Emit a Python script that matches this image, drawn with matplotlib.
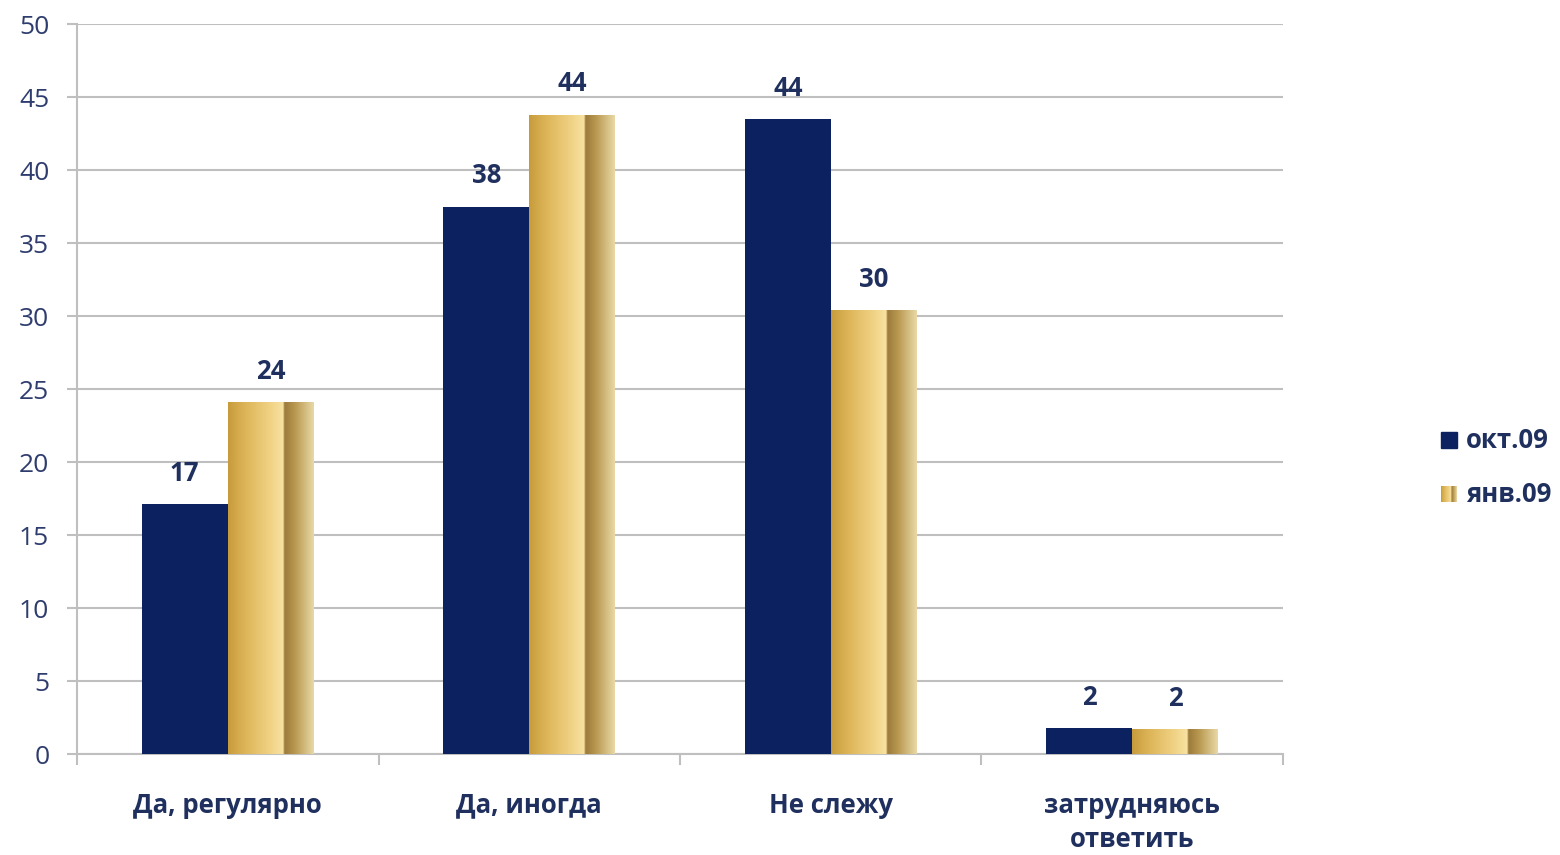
import numpy as np
import matplotlib.pyplot as plt
from matplotlib.colors import LinearSegmentedColormap
from matplotlib.patches import Rectangle

categories = ["Да, регулярно", "Да, иногда", "Не слежу", "затрудняюсь\nответить"]
oct09 = [17.1, 37.5, 43.5, 1.8]
jan09 = [24.1, 43.8, 30.4, 1.7]
oct_labels = ["17", "38", "44", "2"]
jan_labels = ["24", "44", "30", "2"]
series_names = ["окт.09", "янв.09"]

NAVY = "#0c2260"
TEXT = "#1f2f5e"

plt.rcParams['font.family'] = ['Open Sans', 'DejaVu Sans']

gold = LinearSegmentedColormap.from_list("gold", [
    (0.0, "#c79b3c"), (0.2, "#ddb558"), (0.5, "#f1d386"), (0.64, "#f7e2a2"),
    (0.66, "#9c7b3c"), (0.78, "#b99850"), (1.0, "#e9d9a6")])

fig = plt.figure(figsize=(15.6, 8.55), dpi=100)
ax = fig.add_axes([0.0494, 0.1181, 0.7730, 0.8538])

x = np.arange(len(categories))
w = 0.285
ax.bar(x - w / 2, oct09, width=w, color=NAVY, zorder=3)
gbars = ax.bar(x + w / 2, jan09, width=w, color="none", zorder=3)

grad = np.linspace(0, 1, 256).reshape(1, -1)
for b in gbars:
    x0, y0 = b.get_x(), b.get_y()
    bw, bh = b.get_width(), b.get_height()
    im = ax.imshow(grad, cmap=gold, aspect="auto", extent=[x0, x0 + bw, y0, y0 + bh], zorder=3)
    im.set_clip_path(Rectangle((x0, y0), bw, bh, transform=ax.transData))

for xi, v, lab in zip(x - w / 2, oct09, oct_labels):
    ax.text(xi, v + 2.1, lab, ha="center", va="center", fontsize=18.5, fontweight="bold", color=TEXT)
for xi, v, lab in zip(x + w / 2, jan09, jan_labels):
    ax.text(xi, v + 2.1, lab, ha="center", va="center", fontsize=18.5, fontweight="bold", color=TEXT)

ax.set_xlim(-0.5, len(categories) - 0.5)
ax.set_ylim(0, 50)
ax.set_yticks(range(0, 51, 5))
ax.yaxis.grid(True, color="#bfbfbf", linewidth=1.5, zorder=0)
ax.set_axisbelow(True)

ax.set_xticks(x)
ax.set_xticklabels(categories, fontsize=18.5, fontweight="bold", color=TEXT, linespacing=1.35)
ax.tick_params(axis="x", length=0, pad=27)
ax.set_xticks(np.arange(-0.5, len(categories)), minor=True)
ax.tick_params(axis="x", which="minor", length=8, width=1.5, color="#bfbfbf")
ax.tick_params(axis="y", labelsize=19, labelcolor="#2f3d6e", length=7, width=1.5, color="#bfbfbf", pad=13)

for s in ["top", "right"]:
    ax.spines[s].set_visible(False)
for s in ["left", "bottom"]:
    ax.spines[s].set_color("#bfbfbf")
    ax.spines[s].set_linewidth(1.5)

# legend
fig.patches.append(Rectangle((1441 / 1560, 1 - 448 / 855), 16 / 1560, 16 / 855,
                             transform=fig.transFigure, color=NAVY))
lg = fig.add_axes([1441 / 1560, 1 - 502 / 855, 16 / 1560, 16 / 855])
lg.imshow(grad, cmap=gold, aspect="auto")
lg.axis("off")
fig.text(1466 / 1560, 1 - 440 / 855, series_names[0], fontsize=18.5, fontweight="bold", color=TEXT, va="center")
fig.text(1466 / 1560, 1 - 494 / 855, series_names[1], fontsize=18.5, fontweight="bold", color=TEXT, va="center")

fig.savefig("out.png", dpi=100)
